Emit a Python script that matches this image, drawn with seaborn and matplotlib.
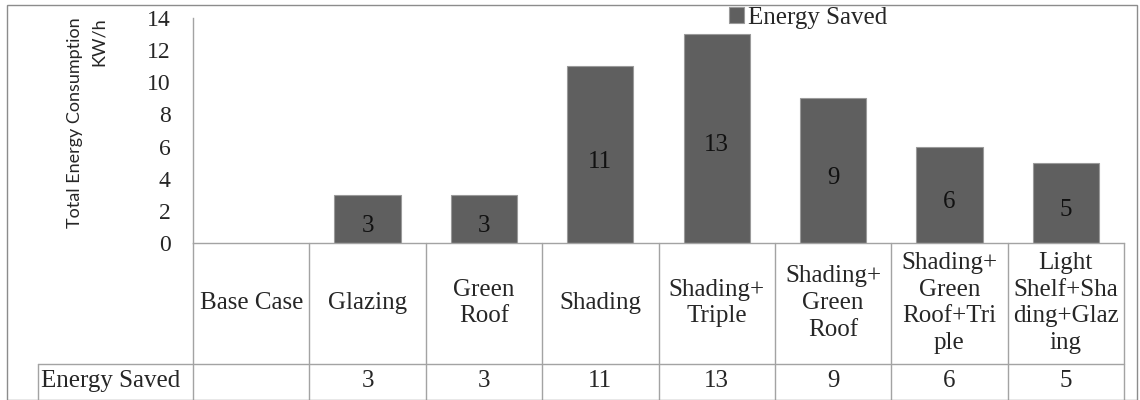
import matplotlib
matplotlib.use("Agg")
import matplotlib.pyplot as plt
import matplotlib.transforms as mtransforms
from matplotlib.patches import Rectangle
from matplotlib.lines import Line2D
import seaborn as sns
import pandas as pd

# ---- data ----
categories = ["Base Case", "Glazing", "Green Roof", "Shading", "Shading+Triple",
              "Shading+Green Roof", "Shading+Green Roof+Triple",
              "Light Shelf+Shading+Glazing"]
header_labels = ["Base Case", "Glazing", "Green\nRoof", "Shading", "Shading+\nTriple",
                 "Shading+\nGreen\nRoof", "Shading+\nGreen\nRoof+Tri\nple",
                 "Light\nShelf+Sha\nding+Glaz\ning"]
energy_saved = [None, 3, 3, 11, 13, 9, 6, 5]
series_name = "Energy Saved"
y_ticks = [0, 2, 4, 6, 8, 10, 12, 14]
y_label = "Total Energy Consumption\nKW/h"

# ---- style ----
sns.set_theme(style="white")
plt.rcParams['font.family'] = ['Liberation Serif', 'DejaVu Serif']
BAR = "#5f5f5f"
GRID = "#a3a3a3"
FS = 18

W, H = 1140, 400
fig = plt.figure(figsize=(W / 100, H / 100), dpi=100)
fig.patch.set_facecolor("white")


def fx(px):
    return px / W


def fy(py):
    return 1 - py / H


ax_left, ax_right, ax_top, ax_bot = 193, 1124, 18, 243
ax = fig.add_axes([fx(ax_left), fy(ax_bot), (ax_right - ax_left) / W, (ax_bot - ax_top) / H])


def ay(py):
    return (ax_bot - py) / (ax_bot - ax_top)


df = pd.DataFrame({"category": categories, "value": energy_saved}).dropna()
sns.barplot(data=df, x="category", y="value", order=categories, color=BAR,
            saturation=1, width=0.57, edgecolor="#9a9a9a", linewidth=0.8,
            label=series_name, ax=ax)
if ax.get_legend() is not None:
    ax.get_legend().remove()

ax.set_xlim(-0.5, len(categories) - 0.5)
ax.set_ylim(0, 14)
ax.set_yticks(y_ticks)
ax.set_yticklabels([str(t) for t in y_ticks], fontsize=17)
ax.tick_params(axis='y', length=0, pad=16)
ax.set_xticks([])
ax.set_xlabel("")
ax.set_ylabel("")
for s in ["top", "right"]:
    ax.spines[s].set_visible(False)
for s in ["left", "bottom"]:
    ax.spines[s].set_color(GRID)
    ax.spines[s].set_linewidth(1)

# bar value labels
for cont in ax.containers:
    texts = ax.bar_label(cont, fmt="%g", label_type="center", fontsize=FS, color="#111111")
    for t in texts:
        t.xyann = (0, -5)

# ---- data table below the axis ----
trans = mtransforms.blended_transform_factory(ax.transData, ax.transAxes)
for b in range(len(categories) + 1):
    x = b - 0.5
    ax.add_artist(Line2D([x, x], [0, ay(400)], transform=trans, color=GRID,
                         lw=1, clip_on=False))
fig.add_artist(Line2D([fx(38), fx(ax_right)], [fy(363.5), fy(363.5)], color=GRID, lw=1))
fig.add_artist(Line2D([fx(38), fx(38)], [fy(363.5), fy(400)], color=GRID, lw=1))

for i, lab in enumerate(header_labels):
    ax.text(i, ay(303), lab, transform=trans, ha="center", va="center",
            fontsize=FS, linespacing=1.27, clip_on=False)
    v = energy_saved[i]
    ax.text(i, ay(381), "" if v is None else f"{v:g}", transform=trans,
            ha="center", va="center", fontsize=FS, clip_on=False)

fig.text(fx(41), fy(381), series_name, ha="left", va="center", fontsize=FS)

# ---- y label ----
fig.text(fx(87), fy(123), y_label, rotation=90, ha="center", va="center",
         multialignment="right", family=["Lato", "DejaVu Sans"], fontsize=13,
         linespacing=1.6)

# ---- legend ----
handles, labels = ax.get_legend_handles_labels()
fig.legend(handles, labels, loc="center", bbox_to_anchor=(fx(808), fy(18)),
           frameon=False, fontsize=FS, handlelength=0.6, handleheight=0.6,
           handletextpad=0.15, borderpad=0, borderaxespad=0)

# ---- outer frame ----
fig.add_artist(Rectangle((fx(7), fy(399.5)), (1137 - 7) / W, (399.5 - 5) / H,
                         transform=fig.transFigure, fill=False, edgecolor="#8c8c8c", lw=1))

fig.savefig("out.png", dpi=100, facecolor="white")
